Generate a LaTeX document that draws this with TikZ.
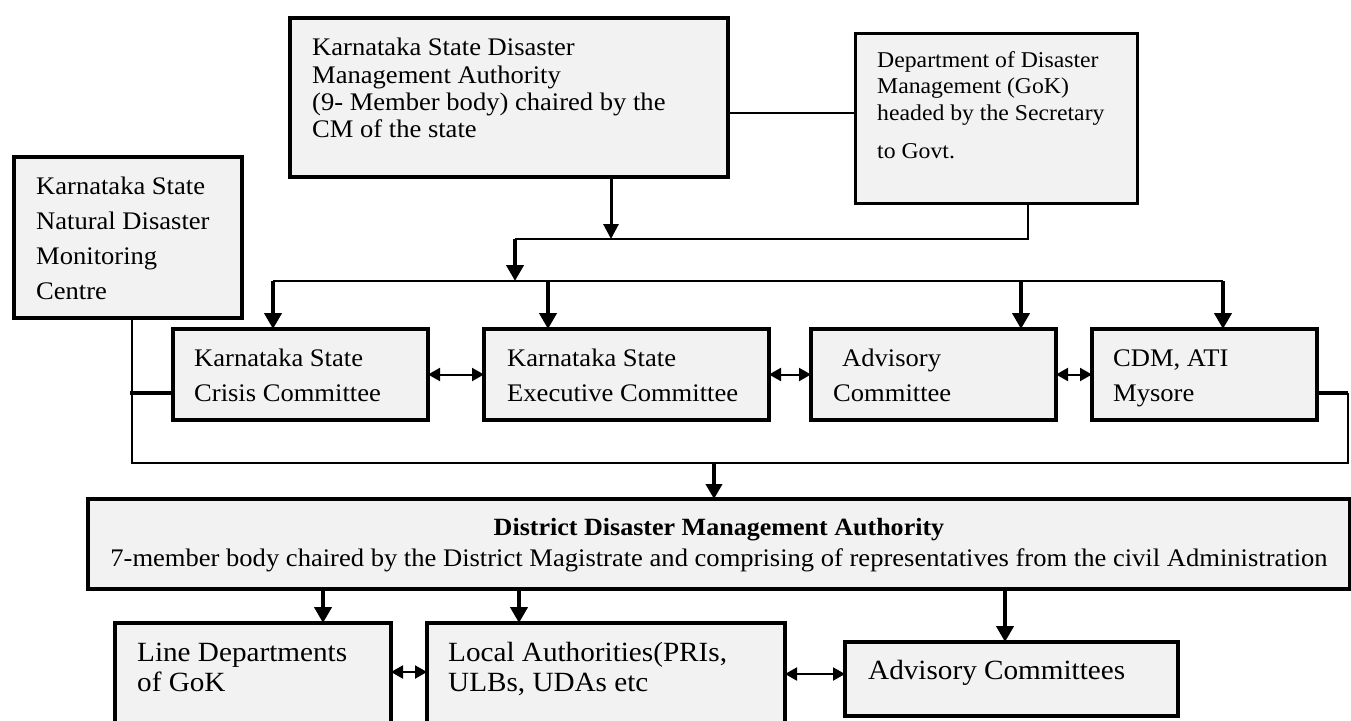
\documentclass[tikz,border=0pt]{standalone}
\usepackage{fontspec}
\setmainfont{Liberation Serif}[FakeStretch=1.05]
\usetikzlibrary{arrows.meta}
\definecolor{boxfill}{HTML}{F2F2F2}
\tikzset{
  box/.style={draw=black, fill=boxfill, line width=4pt, inner sep=0pt, outer sep=0pt, anchor=north west},
  t/.style={anchor=base west, inner sep=0pt, font=\fontsize{25.3pt}{27pt}\selectfont},
  ts/.style={t, font=\fontsize{22.6pt}{26pt}\selectfont},
  tb/.style={t, font=\fontsize{27.8pt}{30pt}\selectfont},
  tc/.style={t, anchor=base},
  conn/.style={line width=2pt},
  thickarrow/.style={line width=4.5pt, -{Triangle[width=17pt,length=16pt]}},
  thinarrow/.style={line width=3pt, -{Triangle[width=15pt,length=15pt]}},
  dbl/.style={line width=2pt, {Triangle[width=13pt,length=12pt]}-{Triangle[width=13pt,length=12pt]}},
}
\begin{document}
\begin{tikzpicture}[x=1pt,y=-1pt]
\useasboundingbox (0,0) rectangle (1351,720);
\clip (0,0) rectangle (1351,720);
% boxes
\node[box, minimum width=438pt, minimum height=159pt] (ksdma) at (290,18) {};
\node[box, line width=3pt, minimum width=282pt, minimum height=170pt] (dodm) at (855,33) {};
\node[box, minimum width=228pt, minimum height=161pt] (ndmc) at (14,157) {};
\node[box, line width=3.5pt, minimum width=255pt, minimum height=91pt] (crisis) at (173,329) {};
\node[box, line width=3.5pt, minimum width=285pt, minimum height=91pt] (exec) at (484,329) {};
\node[box, line width=3.5pt, minimum width=245pt, minimum height=91pt] (adv) at (811,329) {};
\node[box, line width=3.5pt, minimum width=225pt, minimum height=91pt] (cdm) at (1092,329) {};
\node[box, minimum width=1262pt, minimum height=90pt] (ddma) at (88,499) {};
\node[box, minimum width=276pt, minimum height=140pt] (linedept) at (115,623) {};
\node[box, minimum width=358pt, minimum height=140pt] (local) at (427,623) {};
\node[box, minimum width=333pt, minimum height=74pt] (advc) at (845,642) {};
% texts
\node[t] (k1) at (312,55) {Karnataka State Disaster};
\node[t] (k2) at (312,83) {Management Authority};
\node[t] (k3) at (312,110) {(9- Member body) chaired by the};
\node[t] (k4) at (312,137) {CM of the state};
\node[ts] (d1) at (877,67) {Department of Disaster};
\node[ts] (d2) at (877,93) {Management (GoK)};
\node[ts] (d3) at (877,120) {headed by the Secretary};
\node[ts] (d4) at (877,158) {to Govt.};
\node[t] (n1) at (36,194) {Karnataka State};
\node[t] (n2) at (36,229) {Natural Disaster};
\node[t] (n3) at (36,264) {Monitoring};
\node[t] (n4) at (36,299) {Centre};
\node[t] (c1) at (194,366) {Karnataka State};
\node[t] (c2) at (194,401) {Crisis Committee};
\node[t] (e1) at (507,366) {Karnataka State};
\node[t] (e2) at (507,401) {Executive Committee};
\node[t] (a1) at (842,366) {Advisory};
\node[t] (a2) at (833,401) {Committee};
\node[t] (m1) at (1113,366) {CDM, ATI};
\node[t] (m2) at (1113,401) {Mysore};
\node[tc, font=\fontsize{24.8pt}{27pt}\selectfont\bfseries] (dd1) at (719,535) {District Disaster Management Authority};
\node[tc] (dd2) at (719,566) {7-member body chaired by the District Magistrate and comprising of representatives from the civil Administration};
\node[tb] (l1) at (137,661) {Line Departments};
\node[tb] (l2) at (137,691) {of GoK};
\node[tb] (o1) at (448,661) {Local Authorities(PRIs,};
\node[tb] (o2) at (448,691) {ULBs, UDAs etc};
\node[tb] (v1) at (868,679) {Advisory Committees};
% junction coordinates
\coordinate (ja) at (611,239);
\coordinate (jb) at (515,239);
\coordinate (jc) at (1028,239);
\coordinate (jd) at (515,281);
\coordinate (jl) at (273,281);
\coordinate (je) at (548,281);
\coordinate (jf) at (1021,281);
\coordinate (jr) at (1223,281);
\coordinate (ka) at (132,463);
\coordinate (kb) at (1348,463);
\coordinate (kc) at (1348,393);
\coordinate (kd) at (130,393);
\coordinate (ke) at (714,463);
\coordinate (xa) at (323,0);
\coordinate (xb) at (519,0);
\coordinate (xc) at (1005,0);
\coordinate (yb) at (0,672);
\coordinate (yc) at (0,674);
% connectors
\draw[conn] ([yshift=5pt]dodm.west) -- ([yshift=5pt]dodm.west -| ksdma.east);
\draw[thinarrow] (ja |- ksdma.south) -- (ja);
\draw[conn] (jb) -- (jc) -- (jc |- dodm.south);
\draw[thickarrow] (jb) -- (jd);
\draw[conn] (jl) -- (jr);
\draw[thickarrow] (jl) -- (jl |- crisis.north);
\draw[thickarrow] (je) -- (je |- exec.north);
\draw[thickarrow] (jf) -- (jf |- adv.north);
\draw[thickarrow] (jr) -- (jr |- cdm.north);
\draw[dbl] (crisis.east) -- (exec.west);
\draw[dbl] (exec.east) -- (adv.west);
\draw[dbl] (adv.east) -- (cdm.west);
\draw[line width=2.5pt] (ka |- ndmc.south) -- (ka) -- (kb) -- (kc);
\draw[line width=3.5pt] (kc) -- (kc -| cdm.east);
\draw[line width=4pt] (kd) -- (kd -| crisis.west);
\draw[line width=4pt, -{Triangle[width=16pt,length=15pt]}] (ke) -- (ke |- ddma.north);
\draw[thickarrow] (ddma.south -| xa) -- (xa |- linedept.north);
\draw[thickarrow] (ddma.south -| xb) -- (xb |- local.north);
\draw[thickarrow] (ddma.south -| xc) -- (xc |- advc.north);
\draw[dbl] (linedept.east |- yb) -- (local.west |- yb);
\draw[dbl] (local.east |- yc) -- (advc.west |- yc);
\end{tikzpicture}
\end{document}
